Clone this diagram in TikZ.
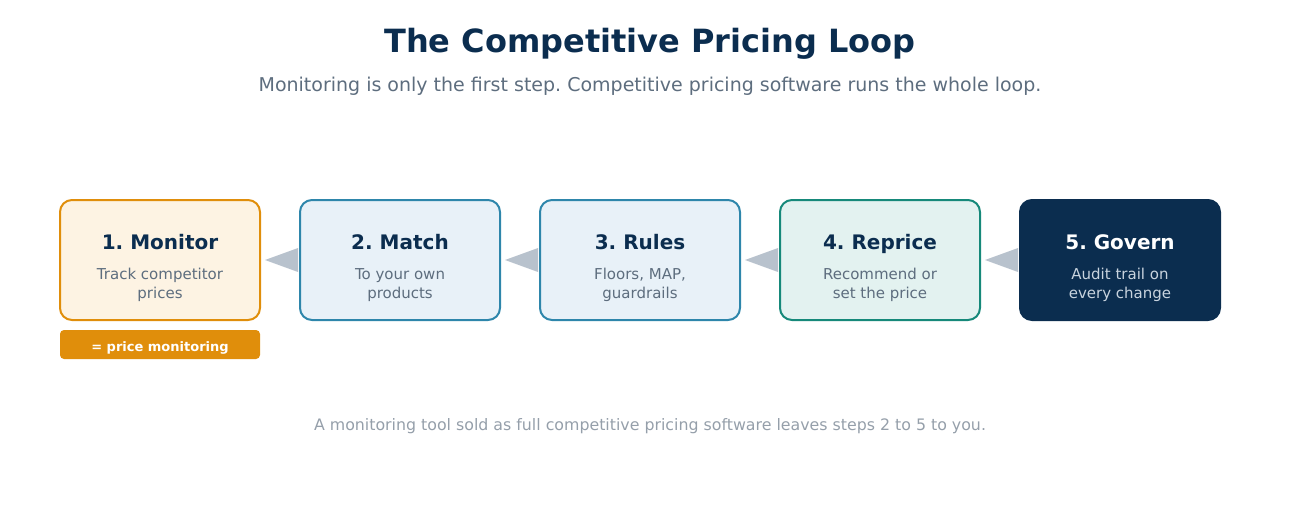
\documentclass[tikz,border=0pt]{standalone}
\usepackage{fontspec}
\setmainfont{DejaVu Sans}
\usetikzlibrary{calc}
\frenchspacing

\definecolor{navy}{HTML}{0B2D4F}
\definecolor{subgray}{HTML}{5D6D7E}
\definecolor{footgray}{HTML}{959FAA}
\definecolor{arrowgray}{HTML}{B8C2CD}
\definecolor{orangeline}{HTML}{E08E0B}
\definecolor{orangefill}{HTML}{FDF3E3}
\definecolor{blueline}{HTML}{2E86AB}
\definecolor{bluefill}{HTML}{E8F1F8}
\definecolor{tealline}{HTML}{16897A}
\definecolor{tealfill}{HTML}{E3F2F0}
\definecolor{govtext}{HTML}{C8D3DE}

\tikzset{
  stepbox/.style={draw, line width=2pt, rounded corners=12pt, minimum width=200pt, minimum height=120pt, inner sep=0pt},
  steptitle/.style={font=\fontsize{20}{24}\selectfont\bfseries, text=navy, text height=14.6pt, text depth=0pt},
  stepbody/.style={font=\fontsize{15}{19}\selectfont, text=subgray, align=center},
}

\begin{document}
\begin{tikzpicture}[x=1pt, y=-1pt]
\useasboundingbox (0,0) rectangle (1300,520);

% heading
\node (title) at (650,44) {\fontsize{32}{38}\selectfont\bfseries\color{navy}The Competitive Pricing Loop};
\node (sub) at (650,86) {\fontsize{19}{23}\selectfont\color{subgray}Monitoring is only the first step. Competitive pricing software runs the whole loop.};

% the five steps
\node[stepbox, draw=orangeline, fill=orangefill] (mon) at (160,260) {};
\node[stepbox, draw=blueline, fill=bluefill] (mat) at (400,260) {};
\node[stepbox, draw=blueline, fill=bluefill] (rul) at (640,260) {};
\node[stepbox, draw=tealline, fill=tealfill] (rep) at (880,260) {};
\node[stepbox, draw=navy, fill=navy] (gov) at (1120,260) {};

\node[steptitle] (mont) at (160,242) {1. Monitor};
\node[stepbody] (monb) at (160,285) {Track competitor\\prices};
\node[steptitle] (matt) at (400,242) {2. Match};
\node[stepbody] (matb) at (400,285) {To your own\\products};
\node[steptitle] (rult) at (640,242) {3. Rules};
\node[stepbody] (rulb) at (640,285) {Floors, MAP,\\guardrails};
\node[steptitle] (rept) at (880,242) {4. Reprice};
\node[stepbody] (repb) at (880,285) {Recommend or\\set the price};
\node[steptitle, text=white] (govt) at (1120,242) {5. Govern};
\node[stepbody, text=govtext] (govb) at (1120,285) {Audit trail on\\every change};

% arrows between steps
\fill[arrowgray] ($(mon.east)+(4,0)$) -- ($(mat.west)+(-1,-12)$) -- ($(mat.west)+(-1,12)$) -- cycle;
\fill[arrowgray] ($(mat.east)+(4,0)$) -- ($(rul.west)+(-1,-12)$) -- ($(rul.west)+(-1,12)$) -- cycle;
\fill[arrowgray] ($(rul.east)+(4,0)$) -- ($(rep.west)+(-1,-12)$) -- ($(rep.west)+(-1,12)$) -- cycle;
\fill[arrowgray] ($(rep.east)+(4,0)$) -- ($(gov.west)+(-1,-12)$) -- ($(gov.west)+(-1,12)$) -- cycle;

% badge under step 1
\node[fill=orangeline, rounded corners=4pt, minimum width=200pt, minimum height=29pt, inner sep=0pt,
  font=\fontsize{13}{16}\selectfont\bfseries, text=white, text height=13.5pt, text depth=0pt] (badge) at (160,344.5) {= price monitoring};

% footer
\node (foot) at (650,426) {\fontsize{15.8}{19}\selectfont\color{footgray}A monitoring tool sold as full competitive pricing software leaves steps 2 to 5 to you.};
\end{tikzpicture}
\end{document}
